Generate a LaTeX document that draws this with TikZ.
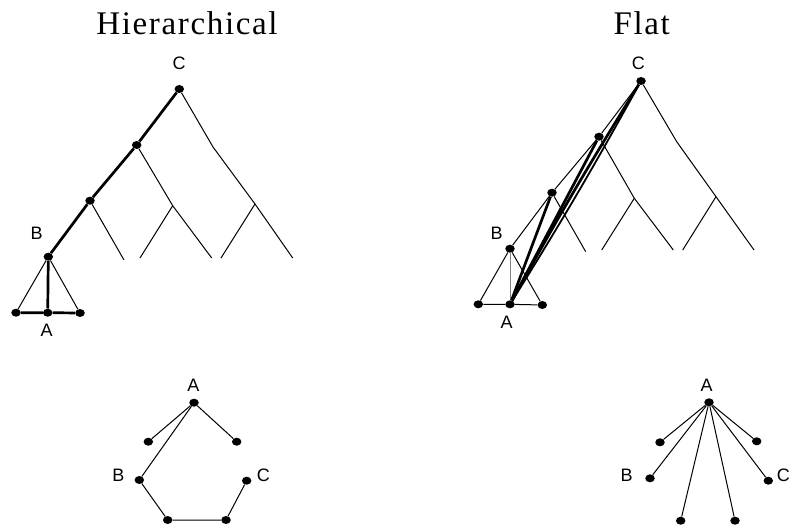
\documentclass[tikz,border=0pt]{standalone}
\usepackage{fontspec}
\setmainfont{Liberation Serif}
\setsansfont{Liberation Sans}
\usetikzlibrary{shapes.geometric}

\begin{document}
\begin{tikzpicture}[x=1pt, y=-1pt,
    dot/.style={ellipse, fill=black, inner sep=0pt, minimum width=9.5pt, minimum height=8pt},
    lab/.style={font=\sffamily\fontsize{18}{18}\selectfont, inner sep=0pt},
    heading/.style={font=\fontsize{33}{33}\selectfont\addfontfeatures{LetterSpace=5}, inner sep=0pt},
    lnk/.style={line width=1pt},
    heavy/.style={line width=2.7pt}]
                \useasboundingbox (0,0) rectangle (789,526);
                % Titles
                \node[heading] (htitle) at (187,23) {Hierarchical};
                \node[heading] (ftitle) at (641.7,23) {Flat};

                % Hierarchical tree
                \node[dot] (hC) at (179.3,89) {}; \node[dot] (h2) at (136.7,145) {}; \node[dot] (h3) at (90,200.7) {};
                \node[dot] (hB) at (48.3,256.7) {};
                \node[dot] (hA1) at (16,312.7) {}; \node[dot] (hA) at (47.7,312.7) {}; \node[dot] (hA3) at (80,313) {};
                \coordinate (hk) at (213,147); \coordinate (hr) at (255,204); \coordinate (hm) at (172.7,205.7);
                \coordinate (hl1) at (292.7,258); \coordinate (hl2) at (221,258);
                \coordinate (hl3) at (211.7,258); \coordinate (hl4) at (140,258); \coordinate (hl5) at (124,260);
                \draw[lnk] (hC) -- (hk) -- (hr) -- (hl1); \draw[lnk] (hr) -- (hl2);
                \draw[lnk] (h2) -- (hm) -- (hl3); \draw[lnk] (hm) -- (hl4);
                \draw[lnk] (h3) -- (hl5);
                \draw[heavy] (hC) -- (h2) -- (h3) -- (hB);
                \draw[lnk] (hB) -- (hA1); \draw[lnk] (hB) -- (hA3);
                \draw[heavy] (hB) -- (hA); \draw[heavy] (hA1) -- (hA) -- (hA3);
                \node[lab] (hClab) at (179,63) {C};
                \node[lab] (hBlab) at (36.7,233) {B};
                \node[lab] (hAlab) at (46.7,330) {A};

                % Flat tree
                \node[dot] (fC) at (641,81) {}; \node[dot] (f2) at (599,136.7) {}; \node[dot] (f3) at (552,192.7) {};
                \node[dot] (fB) at (510,248.7) {};
                \node[dot] (fA1) at (478.3,304.3) {}; \node[dot] (fA) at (510,304.3) {}; \node[dot] (fA3) at (542.3,305) {};
                \coordinate (fk) at (676.7,141.7); \coordinate (fr) at (716,196.7); \coordinate (fm) at (634.3,198.3);
                \coordinate (fl1) at (754,250); \coordinate (fl2) at (682.7,250);
                \coordinate (fl3) at (673.3,250); \coordinate (fl4) at (601.7,250); \coordinate (fl5) at (585.7,251.7);
                \draw[lnk] (fC) -- (fk) -- (fr) -- (fl1); \draw[lnk] (fr) -- (fl2);
                \draw[lnk] (f2) -- (fm) -- (fl3); \draw[lnk] (fm) -- (fl4);
                \draw[lnk] (f3) -- (fl5);
                \draw[lnk] (fC) -- (f2) -- (f3) -- (fB);
                \draw[lnk] (fB) -- (fA1); \draw[lnk] (fB) -- (fA3);
                \draw[lnk, gray] (fB) -- (fA); \draw[lnk] (fA1) -- (fA) -- (fA3);
                \draw[heavy] (fA) -- (f3); \draw[heavy] (fA) -- (f2);
                \draw[heavy] (fA) to[bend left=1.5] (fC); \draw[line width=1.8pt] (fA) to[bend right=1.5] (fC);
                \node[lab] (fClab) at (638.3,63) {C};
                \node[lab] (fBlab) at (496.7,233) {B};
                \node[lab] (fAlab) at (506.7,322) {A};

                % Hierarchical graph
                \node[dot] (gA) at (194,402.7) {}; \node[dot] (g1) at (148.3,441.7) {}; \node[dot] (g2) at (236.7,441.7) {};
                \node[dot] (gB) at (139.3,480) {}; \node[dot] (gC) at (246.7,480.7) {};
                \node[dot] (g3) at (167.7,520) {}; \node[dot] (g4) at (226,520) {};
                \draw[lnk] (gA) -- (g1); \draw[lnk] (gA) -- (g2); \draw[lnk] (gA) -- (gB);
                \draw[lnk] (gB) -- (g3) -- (g4) -- (gC);
                \node[lab] (gAlab) at (193.3,385) {A};
                \node[lab] (gBlab) at (118.3,475) {B};
                \node[lab] (gClab) at (263.3,475) {C};

                % Flat graph
                \node[dot] (kA) at (709,402.3) {}; \node[dot] (k1) at (660,442.3) {}; \node[dot] (k2) at (756.7,441.3) {};
                \node[dot] (kB) at (650,478.3) {}; \node[dot] (kC) at (768.3,480.7) {};
                \node[dot] (k3) at (680.7,520.7) {}; \node[dot] (k4) at (735,520.7) {};
                \foreach \n in {k1,k2,kB,kC,k3,k4} {\draw[lnk] (kA) -- (\n);}
                \node[lab] (kAlab) at (706.7,385) {A};
                \node[lab] (kBlab) at (626.7,475) {B};
                \node[lab] (kClab) at (783.3,475) {C};
            \end{tikzpicture}
\end{document}
